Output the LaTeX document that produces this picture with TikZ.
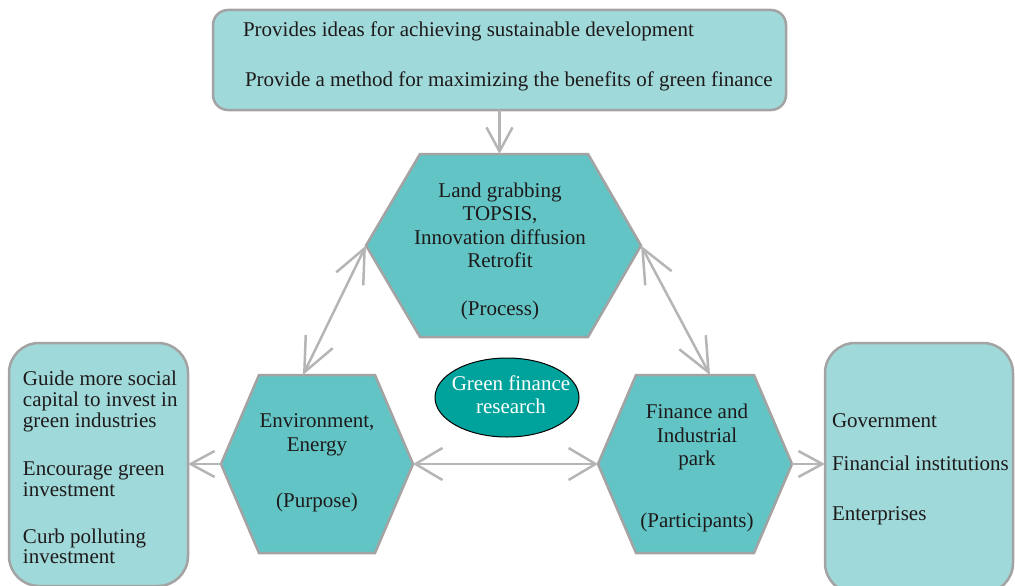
\documentclass[tikz,border=0pt]{standalone}
\usepackage{fontspec}
\setmainfont{Liberation Serif}
\usetikzlibrary{arrows.meta,shapes.geometric,calc}
\definecolor{hexfill}{HTML}{62C4C4}
\definecolor{boxfill}{HTML}{A0D9D9}
\definecolor{bordergray}{HTML}{A3A3A3}
\definecolor{arrowgray}{HTML}{B5B5B5}
\definecolor{ellfill}{HTML}{00A39B}
\definecolor{textcol}{HTML}{1E1A1B}
\begin{document}
\begin{tikzpicture}[x=1pt,y=-1pt,
  roundbox/.style={draw=bordergray, line width=2.5pt, fill=boxfill, inner sep=0pt, outer sep=0pt},
  hexframe/.style={inner sep=0pt, outer sep=0pt, rectangle},
  hexbox/.style={draw=bordergray, line width=2.5pt, fill=hexfill, line join=miter},
  txt/.style={inner sep=0pt, outer sep=0pt, text=textcol, font=\fontsize{21}{22}\selectfont},
  wtxt/.style={inner sep=0pt, outer sep=0pt, text=white, font=\fontsize{21}{22}\selectfont},
  conn/.style={draw=arrowgray, line width=2.5pt, -{Straight Barb[length=24pt,width=26pt]}},
  dconn/.style={draw=arrowgray, line width=2.5pt, {Straight Barb[length=34pt,width=30pt]}-{Straight Barb[length=34pt,width=30pt]}},
  hconn/.style={draw=arrowgray, line width=2.5pt, {Straight Barb[length=27pt,width=32pt]}-{Straight Barb[length=27pt,width=32pt]}}
]
\useasboundingbox (0,0) rectangle (1015,586);

% boxes
\node[roundbox, rounded corners=15pt, minimum width=573pt, minimum height=100pt] (topbox) at (499.5,60) {};
\node[roundbox, rounded corners=30pt, minimum width=179pt, minimum height=243pt] (leftbox) at (98.5,464.5) {};
\node[roundbox, rounded corners=30pt, minimum width=188pt, minimum height=250pt] (rightbox) at (919,468) {};

% hexagon frames
\node[hexframe, minimum width=275pt, minimum height=183pt] (proc) at (503.5,245.5) {};
\node[hexframe, minimum width=192pt, minimum height=178pt] (purp) at (317,464) {};
\node[hexframe, minimum width=194pt, minimum height=178pt] (part) at (695,464) {};

\draw[hexbox] (proc.west) -- ($(proc.north west)+(54,0)$) -- ($(proc.north east)+(-53,0)$) -- (proc.east)
  -- ($(proc.south east)+(-53,0)$) -- ($(proc.south west)+(54,0)$) -- cycle;
\draw[hexbox] (purp.west) -- ($(purp.north west)+(38,0)$) -- ($(purp.north east)+(-38,0)$) -- (purp.east)
  -- ($(purp.south east)+(-38,0)$) -- ($(purp.south west)+(38,0)$) -- cycle;
\draw[hexbox] (part.west) -- ($(part.north west)+(38,0)$) -- ($(part.north east)+(-38,0)$) -- (part.east)
  -- ($(part.south east)+(-38,0)$) -- ($(part.south west)+(38,0)$) -- cycle;

% ellipse
\node[ellipse, draw=black, line width=1pt, fill=ellfill, minimum width=144pt, minimum height=79pt, inner sep=0pt] (gfr) at (507,397.5) {};

% texts
\node[txt, anchor=base west] (t1) at (243,37) {Provides ideas for achieving sustainable development};
\node[txt, anchor=base west] (t2) at (245,87) {Provide a method for maximizing the benefits of green finance};

\node[txt, anchor=base] (p1) at (500,197) {Land grabbing};
\node[txt, anchor=base] (p2) at (500,220) {TOPSIS,};
\node[txt, anchor=base] (p3) at (500,244) {Innovation diffusion};
\node[txt, anchor=base] (p4) at (500,267) {Retrofit};
\node[txt, anchor=base] (p5) at (500,315) {(Process)};

\node[txt, anchor=base] (u1) at (317,427) {Environment,};
\node[txt, anchor=base] (u2) at (317,451) {Energy};
\node[txt, anchor=base] (u3) at (317,507) {(Purpose)};

\node[txt, anchor=base] (a1) at (697,418) {Finance and};
\node[txt, anchor=base] (a2) at (697,442) {Industrial};
\node[txt, anchor=base] (a3) at (697,465) {park};
\node[txt, anchor=base] (a4) at (697,527) {(Participants)};

\node[wtxt, anchor=base] (g1) at (511,390) {Green finance};
\node[wtxt, anchor=base] (g2) at (511,413) {research};

\node[txt, anchor=base west] (l1) at (23,385) {Guide more social};
\node[txt, anchor=base west] (l2) at (23,406) {capital to invest in};
\node[txt, anchor=base west] (l3) at (23,427) {green industries};
\node[txt, anchor=base west] (l4) at (23,475) {Encourage green};
\node[txt, anchor=base west] (l5) at (23,496) {investment};
\node[txt, anchor=base west] (l6) at (23,543) {Curb polluting};
\node[txt, anchor=base west] (l7) at (23,563) {investment};

\node[txt, anchor=base west] (r1) at (832,427) {Government};
\node[txt, anchor=base west] (r2) at (832,470) {Financial institutions};
\node[txt, anchor=base west] (r3) at (832,520) {Enterprises};

% connectors
\coordinate (purptop) at ($(purp.north)+(-14,0)$);
\coordinate (parttop) at ($(part.north)+(15,0)$);
\draw[conn] (topbox.south) -- (topbox.south |- proc.north);
\draw[dconn] (proc.west) -- (purptop);
\draw[dconn] (proc.east) -- (parttop);
\draw[hconn] (purp.east) -- (part.west);
\draw[conn] (purp.west) -- (purp.west -| leftbox.east);
\draw[conn] (part.east) -- (part.east -| rightbox.west);
\end{tikzpicture}
\end{document}
